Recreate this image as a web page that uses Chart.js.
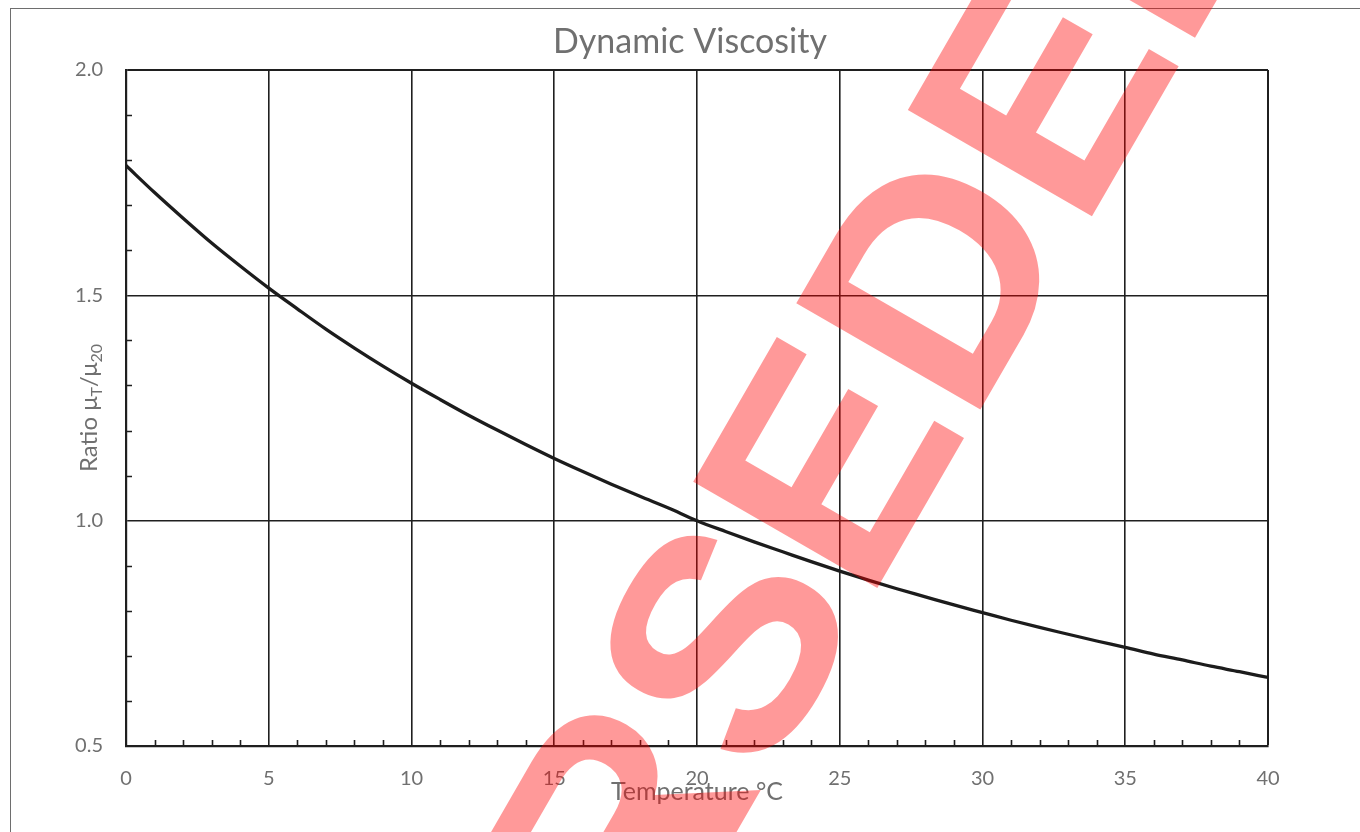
<!DOCTYPE html>
<html>
<head>
<meta charset="utf-8">
<title>Dynamic Viscosity</title>
<script src="https://cdn.jsdelivr.net/npm/chart.js@4.4.1/dist/chart.umd.min.js"></script>
<style>
  html, body { margin: 0; padding: 0; background: #ffffff; }
  #wrap { width: 1360px; height: 832px; }
</style>
</head>
<body>
<div id="wrap"><canvas id="chart" width="1360" height="832"></canvas></div>
<script>
// Water temperature (°C) and viscosity relative to 20 °C
const temperatures = [0, 1, 2, 3, 4, 5, 6, 7, 8, 9, 10, 11, 12, 13, 14, 15, 16, 17, 18, 19, 20,
                      21, 22, 23, 24, 25, 26, 27, 28, 29, 30, 31, 32, 33, 34, 35, 36, 37, 38, 39, 40];
const viscosityRatio = [1.788, 1.728, 1.671, 1.616, 1.565, 1.516, 1.470, 1.425, 1.383, 1.343, 1.305,
                        1.269, 1.234, 1.201, 1.169, 1.138, 1.109, 1.081, 1.054, 1.028, 1.000,
                        0.976, 0.953, 0.931, 0.909, 0.888, 0.868, 0.849, 0.831, 0.813, 0.796,
                        0.779, 0.763, 0.748, 0.733, 0.719, 0.704, 0.691, 0.677, 0.665, 0.652];

// Axis ranges and tick spacing
const xRange = [0, 40];
const yRange = [0.5, 2.0];
const xMajorStep = 5;
const yMajorStep = 0.5;
const xMinorStep = 1;
const yMinorStep = 0.1;

const titleText = 'Dynamic Viscosity';
const xTitleText = 'Temperature °C';
const stampText = 'SUPERSEDED';

const FONT = 'Lato, "Open Sans", sans-serif';
const TEXT_GREY = '#707070';
const LINE_DARK = '#1f1f1f';

function isMajor(v, step) {
  return Math.abs(v / step - Math.round(v / step)) < 1e-6;
}

const chartDecorations = {
  id: 'chartDecorations',
  beforeDraw(chart) {
    const { ctx } = chart;
    ctx.save();
    ctx.fillStyle = '#ffffff';
    ctx.fillRect(0, 0, chart.width, chart.height);
    // outer chart frame
    ctx.strokeStyle = '#6e6e6e';
    ctx.lineWidth = 1;
    ctx.strokeRect(10.5, 8.5, chart.width + 40, chart.height + 40);
    ctx.restore();
  },
  afterDatasetsDraw(chart) {
    const { ctx } = chart;
    const xs = chart.scales.x;
    const ys = chart.scales.y;
    ctx.save();

    // inward minor tick marks
    ctx.strokeStyle = LINE_DARK;
    ctx.lineWidth = 1.6;
    ctx.beginPath();
    for (let v = xRange[0] + xMinorStep; v < xRange[1]; v += xMinorStep) {
      if (isMajor(v, xMajorStep)) continue;
      const px = Math.round(xs.getPixelForValue(v)) + 0.5;
      ctx.moveTo(px, ys.bottom);
      ctx.lineTo(px, ys.bottom - 6);
    }
    for (let v = yRange[0] + yMinorStep; v < yRange[1] - 1e-6; v += yMinorStep) {
      if (isMajor(v, yMajorStep)) continue;
      const py = Math.round(ys.getPixelForValue(v)) + 0.5;
      ctx.moveTo(xs.left, py);
      ctx.lineTo(xs.left + 6, py);
    }
    ctx.stroke();

    // chart title
    ctx.fillStyle = TEXT_GREY;
    ctx.font = '34px ' + FONT;
    ctx.textAlign = 'center';
    ctx.textBaseline = 'alphabetic';
    ctx.fillText(titleText, 690, 53);

    // y axis title with subscripts: Ratio μT/μ20
    const parts = [
      { t: 'Ratio \u03bc', sub: false },
      { t: 'T', sub: true },
      { t: '/\u03bc', sub: false },
      { t: '20', sub: true }
    ];
    const mainFont = '24px ' + FONT;
    const subFont = '16px ' + FONT;
    let total = 0;
    for (const p of parts) {
      ctx.font = p.sub ? subFont : mainFont;
      p.w = ctx.measureText(p.t).width;
      total += p.w;
    }
    ctx.translate(97, (ys.top + ys.bottom) / 2);
    ctx.rotate(-Math.PI / 2);
    ctx.textAlign = 'left';
    let cx = -total / 2;
    for (const p of parts) {
      ctx.font = p.sub ? subFont : mainFont;
      ctx.fillText(p.t, cx, p.sub ? 5 : 0);
      cx += p.w;
    }
    ctx.restore();
  },
  afterDraw(chart) {
    // red status stamp across the chart
    const { ctx } = chart;
    ctx.save();
    ctx.font = 'bold 309px "Liberation Sans", Arial, sans-serif';
    ctx.fillStyle = 'rgba(255, 0, 0, 0.4)';
    const lead = ctx.measureText('SUPERS').width;
    ctx.translate(867, 606);
    ctx.rotate(-Math.PI / 3);
    ctx.textBaseline = 'alphabetic';
    ctx.textAlign = 'left';
    ctx.fillText(stampText, -lead, 0);
    ctx.restore();
  }
};

new Chart(document.getElementById('chart'), {
  type: 'line',
  data: {
    datasets: [{
      label: 'Ratio',
      data: temperatures.map((t, i) => ({ x: t, y: viscosityRatio[i] })),
      borderColor: '#1c1c1c',
      borderWidth: 3.3,
      pointRadius: 0,
      fill: false,
      cubicInterpolationMode: 'monotone'
    }]
  },
  options: {
    responsive: false,
    animation: false,
    devicePixelRatio: 1,
    layout: { padding: { top: 70, right: 92, left: 0, bottom: 0 } },
    plugins: {
      legend: { display: false },
      title: { display: false },
      tooltip: { enabled: false }
    },
    scales: {
      x: {
        type: 'linear',
        min: xRange[0],
        max: xRange[1],
        afterFit(scale) { scale.height = 86; },
        ticks: {
          stepSize: xMajorStep,
          color: TEXT_GREY,
          font: { family: FONT, size: 20 },
          padding: 21,
          maxRotation: 0
        },
        grid: {
          color: LINE_DARK,
          lineWidth: (c) => (c.tick && c.tick.value === xRange[1] ? 2 : 1.6),
          drawTicks: false
        },
        border: { color: LINE_DARK, width: 2.2 },
        title: {
          display: true,
          text: xTitleText,
          color: TEXT_GREY,
          font: { family: FONT, size: 25 },
          padding: { top: 0, bottom: 25 }
        }
      },
      y: {
        type: 'linear',
        min: yRange[0],
        max: yRange[1],
        afterFit(scale) { scale.width = 126; },
        ticks: {
          stepSize: yMajorStep,
          color: TEXT_GREY,
          font: { family: FONT, size: 20 },
          padding: 23,
          callback: (v) => Number(v).toFixed(1)
        },
        grid: {
          color: LINE_DARK,
          lineWidth: (c) => (c.tick && c.tick.value === yRange[1] ? 2 : 1.6),
          drawTicks: false
        },
        border: { color: LINE_DARK, width: 2.2 }
      }
    }
  },
  plugins: [chartDecorations]
});
</script>
</body>
</html>
